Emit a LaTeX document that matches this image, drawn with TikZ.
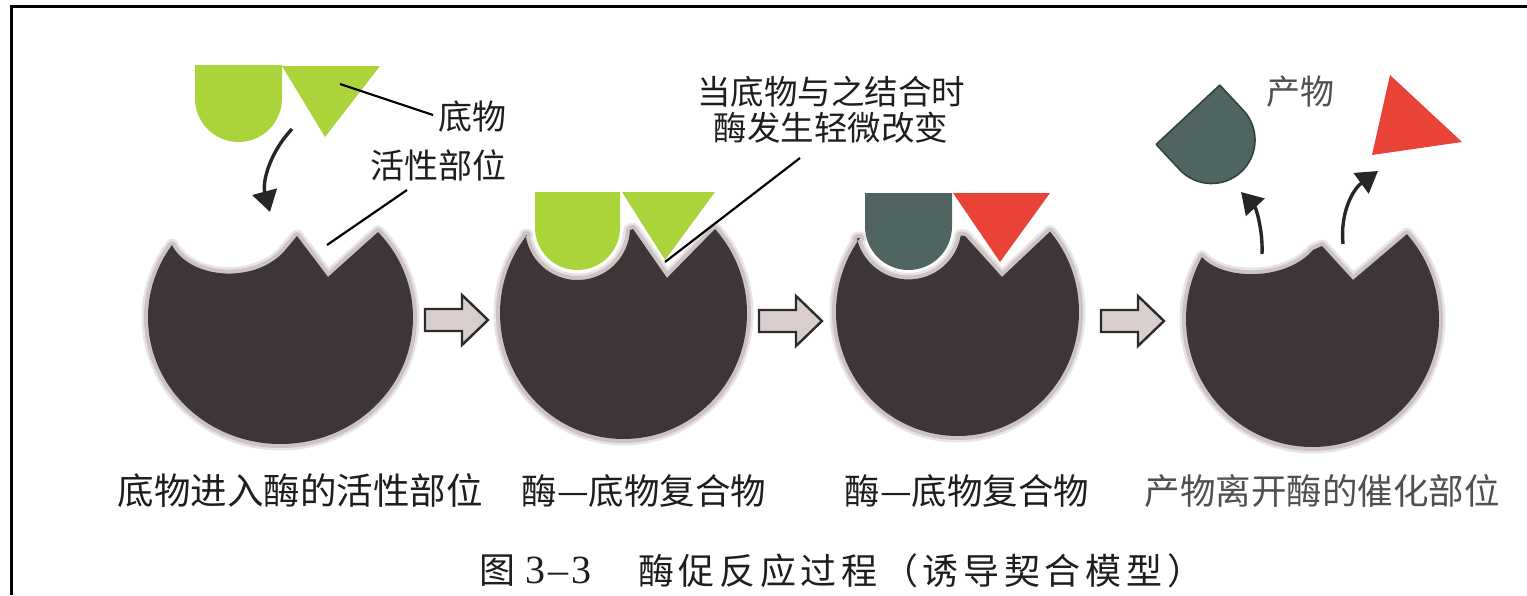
\documentclass[tikz,border=0pt]{standalone}
\usepackage{fontspec}
\setmainfont{Liberation Serif}
\newfontfamily\cjk{Noto Sans CJK SC}
\newfontfamily\cjkwide{Noto Sans CJK SC}[LetterSpace=13]
\usetikzlibrary{arrows.meta}

\definecolor{enzdark}{RGB}{62,53,55}
\definecolor{enzhalo}{RGB}{204,195,196}
\definecolor{enzglow}{RGB}{233,228,228}
\definecolor{subgreen}{RGB}{170,212,58}
\definecolor{prodteal}{RGB}{80,101,97}
\definecolor{prodtealdark}{RGB}{50,66,62}
\definecolor{prodred}{RGB}{233,66,54}
\definecolor{arrowfill}{RGB}{217,206,206}
\definecolor{arrowline}{RGB}{45,42,42}
\definecolor{inkgray}{RGB}{30,30,30}
\definecolor{softgray}{RGB}{80,80,80}

\tikzset{
  pics/blockarrow/.style={code={
    \draw[fill=arrowfill, draw=arrowline, line width=2.4pt, line join=miter]
      (0,-11) -- (37,-11) -- (37,-25) -- (63,0) -- (37,25) -- (37,11) -- (0,11) -- cycle;
  }}
}

\begin{document}
\begin{tikzpicture}[x=1pt, y=-1pt,
  enzyme/.style={fill=enzdark,
    preaction={draw=enzglow, line width=13pt, line join=round},
    preaction={draw=enzhalo, line width=8pt, line join=round}},
  leader/.style={draw=black, line width=2.2pt},
  bend arrow/.style={draw=black!85, line width=3.4pt,
    -{Triangle[width=25pt, length=21pt]}},
  lbl/.style={font=\cjk\fontsize{34}{40}\selectfont, text=inkgray, inner sep=0pt},
  steplbl/.style={font=\cjk\fontsize{35.5}{40}\selectfont, text=inkgray, inner sep=0pt},
  caplbl/.style={font=\cjkwide\fontsize{36}{40}\selectfont, text=inkgray, inner sep=0pt}
]
\useasboundingbox (0,0) rectangle (1527,595);

% page frame (top and left rules)
\draw[line width=3pt] (1527,6.5) -- (11.5,6.5) -- (11.5,595);

% ---------- enzymes ----------
\coordinate (e1c) at (280.5,317.6);
\path[enzyme] (e1c) ++(-42.6:132.5 and 126.4)
  arc[start angle=-42.6, end angle=215, x radius=132.5, y radius=126.4]
  .. controls (190,280) and (258,285) .. (287,248)
  -- (297,236) -- (328,277) -- cycle;

\coordinate (e2c) at (623.5,313.4);
\path[enzyme] (e2c) ++(-42.2:123.5 and 125.6)
  arc[start angle=-42.2, end angle=218.6, x radius=123.5, y radius=125.6]
  -- (525.6,235.3) arc[start angle=171.5, end angle=3, radius=52.5]
  -- (633,229) -- (667,278) -- cycle;

\coordinate (e3c) at (957.5,312);
\path[enzyme] (e3c) ++(-40.4:121.5 and 124)
  arc[start angle=-40.4, end angle=216.7, x radius=121.5, y radius=124]
  -- (856.9,238.4) arc[start angle=167, end angle=10, radius=53]
  -- (965,236) -- (1002,277) -- cycle;

\coordinate (e4c) at (1312.5,319.2);
\path[enzyme] (e4c) ++(-41.7:126.5 and 127.8)
  arc[start angle=-41.7, end angle=209.1, x radius=126.5, y radius=127.8]
  .. controls (1222,280) and (1285,282) .. (1313,250)
  -- (1322,246) -- (1353,280) -- cycle;

% ---------- substrates and products ----------
% step 1: free substrate
\fill[subgreen] (195,65) -- (282,65) -- (282,98.5)
  arc[start angle=0, end angle=180, radius=43.5] -- cycle;
\fill[subgreen] (282,66) -- (380,66) -- (325,137) -- cycle;
% step 2: bound substrate
\fill[subgreen] (535,192) -- (620,192) -- (620,227.5)
  arc[start angle=0, end angle=180, radius=42.5] -- cycle;
\fill[subgreen] (622,192) -- (715,192) -- (665,260) -- cycle;
% step 3: bound products
\fill[prodteal] (865,193) -- (952,193) -- (952,226.5)
  arc[start angle=0, end angle=180, radius=43.5] -- cycle;
\fill[prodred] (953,193) -- (1050,193) -- (1000,262) -- cycle;
% step 4: released products
\begin{scope}[shift={(1211.5,140)}, rotate=43]
  \filldraw[fill=prodteal, draw=prodtealdark, line width=1.6pt, line join=round]
    (-43.5,-34.5) -- (43.5,-34.5) -- (43.5,0)
    arc[start angle=0, end angle=180, radius=43.5] -- cycle;
\end{scope}
\fill[prodred] (1372,155) -- (1390,75) -- (1462,142) -- cycle;

% ---------- block arrows between steps ----------
\pic (ba1) at (425,320) {blockarrow};
\pic (ba2) at (759,321) {blockarrow};
\pic (ba3) at (1101,321) {blockarrow};

% ---------- motion arrows ----------
\coordinate (s1from) at (292,129);
\coordinate (s1to) at (270,212);
\draw[bend arrow] (s1from) .. controls (270,152) and (262,182) .. (s1to);
\coordinate (p1from) at (1262,254);
\coordinate (p1to) at (1241,192);
\draw[bend arrow] (p1from) .. controls (1263,230) and (1256,208) .. (p1to);
\coordinate (p2from) at (1343,244);
\coordinate (p2to) at (1378,171);
\draw[bend arrow] (p2from) .. controls (1340,214) and (1352,190) .. (p2to);

% ---------- labels ----------
\node[lbl] (tSub) at (472,117) {底物};
\node[lbl] (tSite) at (438,165) {活性部位};
\node[lbl, font=\cjk\fontsize{33.5}{36}\selectfont, align=center] (tFit) at (831,110)
  {当底物与之结合时\\酶发生轻微改变};
\node[lbl, text=softgray] (tProd) at (1300,92) {产物};

\coordinate (subPt) at (340,84);
\coordinate (subLblPt) at (433,115);
\draw[leader] (subPt) -- (subLblPt);
\coordinate (sitePt) at (327,245);
\coordinate (siteLblPt) at (407,190);
\draw[leader] (sitePt) -- (siteLblPt);
\coordinate (fitPt) at (665,262);
\coordinate (fitLblPt) at (800,158);
\draw[leader] (fitPt) -- (fitLblPt);

\node[steplbl, font=\cjk\fontsize{36.5}{40}\selectfont] (l1) at (300,491) {底物进入酶的活性部位};
\node[steplbl] (l2) at (644,491) {酶—底物复合物};
\node[steplbl] (l3) at (967,491) {酶—底物复合物};
\node[steplbl, text=softgray] (l4) at (1322,491) {产物离开酶的催化部位};

% ---------- caption ----------
\node[caplbl, anchor=west] (capNum) at (479,571)
  {图\kern10pt{\rmfamily\fontsize{40}{40}\selectfont 3\kern3pt–\kern3pt3}};
\node[caplbl, anchor=west] (capText) at (638,571) {酶促反应过程（诱导契合模型）};
\end{tikzpicture}
\end{document}
